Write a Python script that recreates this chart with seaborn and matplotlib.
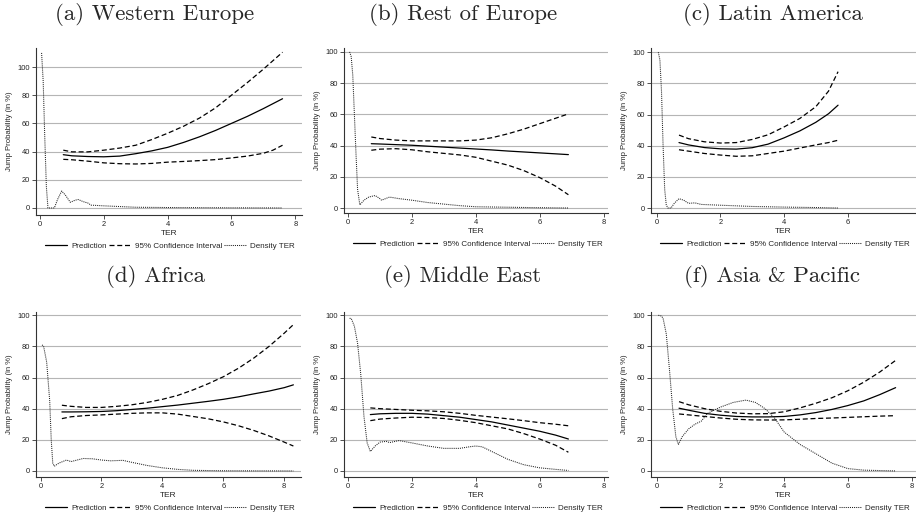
import matplotlib
matplotlib.use("Agg")
import matplotlib.pyplot as plt
import seaborn as sns

# panel titles
titles = ["(a) Western Europe", "(b) Rest of Europe", "(c) Latin America",
          "(d) Africa", "(e) Middle East", "(f) Asia & Pacific"]

# (a) Western Europe
we_ter = [0.73, 1, 1.5, 2, 2.5, 3, 3.5, 4, 4.5, 5, 5.5, 6, 6.5, 7, 7.3, 7.6]
we_pred = [37.8, 37, 36.5, 36.3, 36.8, 38.5, 40.5, 43, 46.5, 50.5, 55, 60, 65, 70.5, 74, 77.5]
we_upper = [41, 39.8, 39.8, 41, 42.5, 44.5, 48.5, 53, 58, 63.8, 71, 80, 89, 98.5, 104.5, 110.5]
we_lower = [34.5, 34.2, 33.2, 32, 31.4, 31.2, 31.6, 32.5, 33, 33.6, 34.3, 35.5, 36.8, 38.8, 41, 44.5]
we_dens_ter = [0.05, 0.1, 0.15, 0.2, 0.25, 0.45, 0.55, 0.68, 0.8, 0.95, 1.1, 1.2, 1.35, 1.5, 1.6,
               2, 2.5, 3, 4, 5, 6, 7.6]
we_dens = [110, 90, 50, 15, 0, 0, 6, 12, 9, 4, 5.5, 6, 4.5, 3.5, 2, 1.5, 1, 0.5, 0.3, 0.2, 0.1, 0]

# (b) Rest of Europe
re_ter = [0.73, 1, 1.5, 2, 2.5, 3, 3.5, 4, 4.5, 5, 5.5, 6, 6.5, 6.9]
re_pred = [41.2, 41, 40.6, 40.2, 39.6, 39, 38.4, 37.8, 37.2, 36.5, 35.9, 35.3, 34.7, 34.2]
re_upper = [45.5, 44.5, 43.5, 43, 43, 43, 43, 43.5, 45, 47.5, 50.5, 54, 57.5, 60.3]
re_lower = [37, 37.7, 38, 37.3, 36, 35, 34, 32.5, 30, 27.5, 24, 19.5, 14, 8.5]
re_dens_ter = [0.05, 0.1, 0.15, 0.2, 0.25, 0.3, 0.37, 0.5, 0.65, 0.85, 1.0, 1.05, 1.3, 1.6,
               2, 2.5, 3, 3.5, 4, 5, 6, 6.9]
re_dens = [100, 97, 85, 60, 35, 12, 2, 5, 7, 8, 6, 5, 7, 6, 5, 3.5, 2.5, 1.5, 0.8, 0.5, 0.2, 0]

# (c) Latin America
la_ter = [0.7, 1, 1.5, 2, 2.5, 3, 3.5, 4, 4.5, 5, 5.4, 5.7]
la_pred = [42, 40.5, 38.8, 38, 37.8, 38.7, 41, 45, 49.5, 55, 60.5, 66]
la_upper = [46.8, 44.5, 42.5, 41.7, 42, 44, 47, 52, 57.5, 65, 75, 87.5]
la_lower = [37.4, 36.5, 35, 34, 33.2, 33.5, 35, 36.5, 38.5, 40.5, 42, 43.5]
la_dens_ter = [0.05, 0.1, 0.15, 0.2, 0.25, 0.3, 0.35, 0.45, 0.55, 0.7, 0.85, 1.0, 1.2, 1.4,
               2, 3, 4, 5, 5.7]
la_dens = [100, 95, 75, 40, 12, 2, 0, 0, 3, 6, 5, 3, 3.3, 2.3, 1.8, 1, 0.6, 0.3, 0]

# (d) Africa
af_ter = [0.7, 1, 1.5, 2, 2.5, 3, 3.5, 4, 4.5, 5, 5.5, 6, 6.5, 7, 7.5, 8, 8.3]
af_pred = [37.9, 37.9, 38, 38.2, 38.7, 39.5, 40.3, 41.3, 42.3, 43.5, 44.7, 46, 47.6, 49.5, 51.3, 53.5, 55.3]
af_upper = [42.2, 41.5, 40.8, 40.8, 41.5, 42.5, 44, 46, 48.5, 52, 56, 60.5, 66, 72.5, 80, 88.5, 94]
af_lower = [33.6, 34.8, 35.6, 36, 36.5, 37, 37.3, 37.3, 36.5, 35, 33.5, 31.5, 29, 26, 22.5, 18.5, 16]
af_dens_ter = [0.05, 0.1, 0.2, 0.3, 0.35, 0.4, 0.45, 0.6, 0.85, 1.0, 1.2, 1.4, 1.7, 2, 2.3, 2.7,
               3, 3.5, 4, 4.5, 5, 6, 8.3]
af_dens = [81, 80, 70, 45, 20, 5, 3, 5, 7, 6, 7, 8, 7.8, 7, 6.5, 6.8, 5.5, 3.5, 2, 1, 0.4, 0.1, 0]

# (e) Middle East
me_ter = [0.7, 1, 1.5, 2, 2.5, 3, 3.5, 4, 4.5, 5, 5.5, 6, 6.5, 6.9]
me_pred = [36.2, 36.7, 37, 37, 36.5, 35.5, 34.5, 33, 31.5, 29.5, 27.5, 25.5, 23, 20.5]
me_upper = [40.5, 40, 39.5, 39, 38.6, 38, 37, 35.7, 34.6, 33.5, 32.3, 31, 30, 29]
me_lower = [32.3, 33.3, 34, 34.5, 34.3, 33.7, 32.5, 31, 29, 27, 24, 20.5, 16.5, 12]
me_dens_ter = [0.05, 0.1, 0.2, 0.3, 0.4, 0.5, 0.6, 0.7, 0.85, 1.0, 1.2, 1.3, 1.6, 2, 2.5, 3,
               3.5, 3.8, 4, 4.2, 4.5, 5, 5.5, 6, 6.5, 6.9]
me_dens = [98, 98, 93, 82, 62, 35, 18, 12.5, 16, 18.5, 19, 18.2, 19.5, 18, 16, 14.5, 14.5,
           15.5, 16, 15.5, 12.5, 7.5, 4, 2, 1, 0.3]

# (f) Asia & Pacific
ap_ter = [0.7, 1, 1.5, 2, 2.5, 3, 3.5, 4, 4.5, 5, 5.5, 6, 6.5, 7, 7.5]
ap_pred = [40.3, 39, 37, 35.8, 35, 34.7, 34.7, 35, 36, 37.5, 39.5, 42, 45, 49, 53.5]
ap_upper = [44.5, 42.5, 40, 38.3, 37.2, 36.7, 36.8, 38, 40.5, 43.5, 47, 51.5, 57, 63.5, 71]
ap_lower = [36.6, 36, 35, 34, 33.2, 32.8, 32.7, 32.8, 33.2, 33.7, 34, 34.4, 34.8, 35.2, 35.5]
ap_dens_ter = [0.05, 0.15, 0.2, 0.3, 0.4, 0.5, 0.6, 0.68, 0.8, 1.0, 1.2, 1.4, 1.6, 2, 2.4, 2.8,
               3.1, 3.4, 3.7, 4, 4.5, 5, 5.5, 6, 6.5, 7.5]
ap_dens = [100, 99.5, 98, 88, 65, 40, 22, 17, 22, 27, 30, 32, 37, 41, 44, 45.5, 44, 40, 34,
           25, 17, 11, 5, 1.5, 0.5, 0]

panels = [
    (we_ter, we_pred, we_upper, we_lower, we_dens_ter, we_dens),
    (re_ter, re_pred, re_upper, re_lower, re_dens_ter, re_dens),
    (la_ter, la_pred, la_upper, la_lower, la_dens_ter, la_dens),
    (af_ter, af_pred, af_upper, af_lower, af_dens_ter, af_dens),
    (me_ter, me_pred, me_upper, me_lower, me_dens_ter, me_dens),
    (ap_ter, ap_pred, ap_upper, ap_lower, ap_dens_ter, ap_dens),
]

# layout in pixels: left, right, top, bottom of the plot area, x limits, y limits
W, H = 916, 520
boxes = [
    (36, 302, 48, 215, (-0.125, 8.21), (-5, 113.5)),
    (344, 608, 48, 213, (-0.125, 8.14), (-3.2, 102.5)),
    (651, 916, 48, 213, (-0.18, 8.15), (-3.2, 102.7)),
    (36, 301, 312, 477, (-0.15, 8.55), (-3.9, 102.1)),
    (344, 608, 312, 477, (-0.125, 8.14), (-3.9, 102.1)),
    (651, 916, 312, 477, (-0.18, 8.14), (-3.9, 102.1)),
]
title_pos = [(155, 15), (463, 15), (773, 15), (156, 277), (463, 277), (772, 277)]
# legend centre x in pixels (ref legends span ~255 px)
legend_x = [170, 478, 785, 170, 478, 785]

sns.set_style("white")
plt.rcParams["font.family"] = ["Liberation Sans", "DejaVu Sans"]

fig = plt.figure(figsize=(W / 100, H / 100), dpi=100)

for i, (ter, pred, upper, lower, dter, dens) in enumerate(panels):
    L, R, T, B, xl, yl = boxes[i]
    ax = fig.add_axes([L / W, 1 - B / H, (R - L) / W, (B - T) / H])

    sns.lineplot(x=ter, y=pred, color="black", lw=0.9, ax=ax)
    sns.lineplot(x=ter, y=upper, color="black", lw=0.9, ax=ax)
    sns.lineplot(x=ter, y=lower, color="black", lw=0.9, ax=ax)
    sns.lineplot(x=dter, y=dens, color="#222222", lw=0.75, ax=ax)
    ln = ax.lines
    ln[1].set_dashes((4, 2.2))
    ln[2].set_dashes((4, 2.2))
    ln[3].set_dashes((1, 1))

    ax.set_xlim(*xl)
    ax.set_ylim(*yl)
    ax.set_xticks([0, 2, 4, 6] if i == 2 else [0, 2, 4, 6, 8])
    ax.set_yticks([0, 20, 40, 60, 80, 100])
    ax.yaxis.grid(True, color="#b5b5b5", lw=0.8)
    ax.xaxis.grid(False)
    ax.set_axisbelow(True)
    for s in ["top", "right"]:
        ax.spines[s].set_visible(False)
    for s in ["left", "bottom"]:
        ax.spines[s].set_color("#333333")
        ax.spines[s].set_linewidth(0.8)
    ax.tick_params(direction="out", length=3, width=0.6, color="#333333",
                   labelsize=5.4, labelcolor="#222222", pad=1.5,
                   left=True, bottom=True)
    ax.set_xlabel("TER", fontsize=6, labelpad=1)
    ax.set_ylabel("Jump Probability (in %)", fontsize=5.6, labelpad=3)

    ax.legend([ln[0], ln[1], ln[3]], ["Prediction", "95% Confidence Interval", "Density TER"],
              loc="center", bbox_to_anchor=(legend_x[i] / W, 1 - (B + 31) / H),
              bbox_transform=fig.transFigure, ncol=3, frameon=False, fontsize=5.8,
              handlelength=2.7, handletextpad=0.5, columnspacing=0.3, borderpad=0.2)

    tx, ty = title_pos[i]
    fig.text(tx / W, 1 - ty / H, titles[i], ha="center", va="center",
             fontsize=16.5, family=["cmr10", "DejaVu Serif"])

fig.savefig("out.png", dpi=100)
